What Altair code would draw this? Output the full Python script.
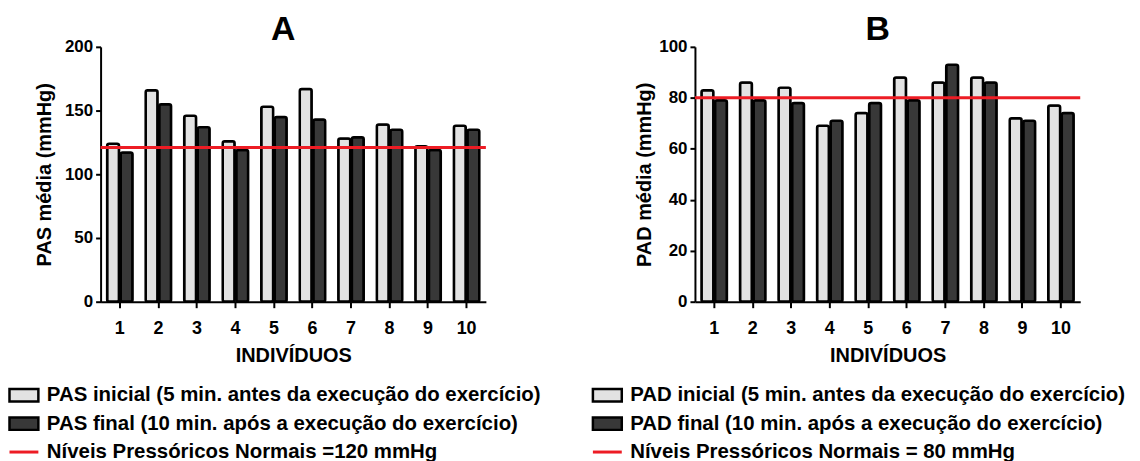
import altair as alt
import pandas as pd

individuos = [1, 2, 3, 4, 5, 6, 7, 8, 9, 10]
pas_inicial = [124, 166, 146, 126, 153, 167, 128, 139, 122, 138]
pas_final = [117, 155, 137, 119, 145, 143, 129, 135, 119, 135]
pad_inicial = [83, 86, 84, 69, 74, 88, 86, 88, 72, 77]
pad_final = [79, 79, 78, 71, 78, 79, 93, 86, 71, 74]
normal_pas = 121
normal_pad = 80

lab_pas = ["PAS inicial (5 min. antes da execução do exercício)",
           "PAS final (10 min. após a execução do exercício)"]
lab_pad = ["PAD inicial  (5 min. antes da execução do exercício)",
           "PAD final  (10 min. após a execução do exercício)"]
lab_norm_pas = "Níveis Pressóricos Normais =120 mmHg"
lab_norm_pad = "Níveis Pressóricos Normais  = 80 mmHg"

FONT = "Liberation Sans"
RECT = "M-1,-0.43H1V0.43H-1Z"


def panel(init, final, normal, labs, normlab, title, ytitle, ymax, ystep,
          legx, ytp):
    rows = []
    for i, a, b in zip(individuos, init, final):
        rows.append({"ind": i, "serie": labs[0], "v": a})
        rows.append({"ind": i, "serie": labs[1], "v": b})
    df = pd.DataFrame(rows)
    ys = alt.Scale(domain=[0, ymax], nice=False)
    bars = alt.Chart(df).mark_bar(
        stroke="black", strokeWidth=2.5, cornerRadius=2
    ).encode(
        x=alt.X("ind:O", title="INDIVÍDUOS",
                scale=alt.Scale(paddingInner=0.34, paddingOuter=0.17),
                axis=alt.Axis(labelAngle=0, tickSize=6, labelPadding=12,
                              labelFontSize=18, titlePadding=8)),
        xOffset=alt.XOffset("serie:N", sort=labs,
                            scale=alt.Scale(paddingInner=0.12)),
        y=alt.Y("v:Q", title=ytitle, scale=ys,
                axis=alt.Axis(values=list(range(0, ymax + 1, ystep)),
                              tickSize=5, labelPadding=3, titlePadding=ytp)),
        fill=alt.Fill("serie:N", sort=labs,
                      scale=alt.Scale(domain=labs, range=["#e2e2e2", "#383838"]),
                      legend=alt.Legend(title=None, orient="none",
                                        legendX=legx, legendY=334,
                                        symbolType=RECT, symbolSize=841,
                                        symbolStrokeColor="black",
                                        symbolStrokeWidth=2.5,
                                        rowPadding=0.5, labelOffset=7)),
    )
    ndf = pd.DataFrame({"v": [normal], "lab": [normlab]})
    rule = alt.Chart(ndf).mark_rule(strokeWidth=3).encode(
        y=alt.Y("v:Q", scale=ys),
        stroke=alt.Stroke("lab:N",
                          scale=alt.Scale(domain=[normlab], range=["#ed1c24"]),
                          legend=alt.Legend(title=None, orient="none",
                                            legendX=legx, legendY=391,
                                            symbolType="stroke", symbolSize=841,
                                            symbolStrokeWidth=3,
                                            labelOffset=7)),
    )
    return alt.layer(bars, rule).properties(
        width=387, height=256,
        title=alt.TitleParams(title, fontSize=34, fontWeight="bold", font=FONT,
                              anchor="middle", dx=-10, offset=-9, color="black"),
    )


a = panel(pas_inicial, pas_final, normal_pas, lab_pas, lab_norm_pas, "A",
          "PAS média (mmHg)", 200, 50, -93, 10)
b = panel(pad_inicial, pad_final, normal_pad, lab_pad, lab_norm_pad, "B",
          "PAD média (mmHg)", 100, 20, -104, 4)

chart = alt.hconcat(a, b, spacing=50).resolve_scale(
    x="independent", y="independent", fill="independent", stroke="independent",
    xOffset="independent"
).resolve_legend(fill="independent", stroke="independent").configure_view(
    stroke=None
).configure_axis(
    domainColor="black", domainWidth=2, tickColor="black", tickWidth=2,
    labelColor="black", labelFont=FONT, labelFontSize=17, labelFontWeight="bold",
    titleColor="black", titleFont=FONT, titleFontSize=20, titleFontWeight="bold",
    grid=False
).configure_legend(
    labelFont=FONT, labelFontSize=20.5, labelFontWeight="bold", labelColor="black",
    labelLimit=0
).properties(padding={"left": 0, "top": 4, "right": 0, "bottom": 0})

chart.save("out.html", embed_options={"renderer": "svg", "actions": False})
